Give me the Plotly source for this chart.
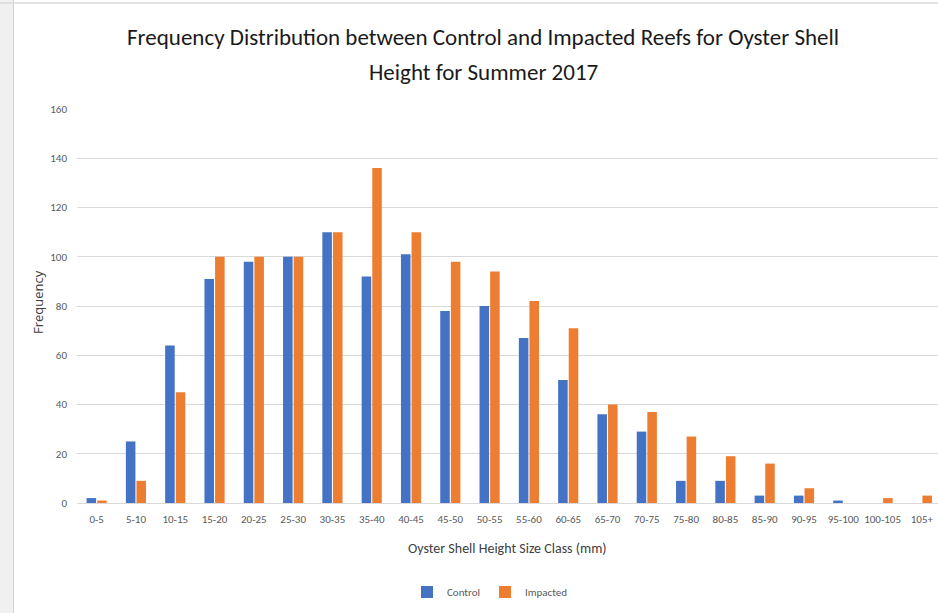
import plotly.graph_objects as go

# Oyster shell height size classes (mm)
size_classes = ["0-5", "5-10", "10-15", "15-20", "20-25", "25-30", "30-35", "35-40",
                "40-45", "45-50", "50-55", "55-60", "60-65", "65-70", "70-75", "75-80",
                "80-85", "85-90", "90-95", "95-100", "100-105", "105+"]

control = [2, 25, 64, 91, 98, 100, 110, 92, 101, 78, 80, 67, 50, 36, 29, 9, 9, 3, 3, 1, 0, 0]
impacted = [1, 9, 45, 100, 100, 100, 110, 136, 110, 98, 94, 82, 71, 40, 37, 27, 19, 16, 6, 0, 2, 3]

y_ticks = [0, 20, 40, 60, 80, 100, 120, 140, 160]

W, H = 938, 613
ML, MR, MT, MB = 77, 0, 109, 110
PW, PH = W - ML - MR, H - MT - MB

FONT = "Carlito, Calibri, Lato, sans-serif"


def px(x):
    return (x - ML) / PW


def py(y):
    return (H - MB - y) / PH


fig = go.Figure()
fig.add_trace(go.Bar(name="Control", x=size_classes, y=control,
                     marker=dict(color="#4472C4", line=dict(width=0))))
fig.add_trace(go.Bar(name="Impacted", x=size_classes, y=impacted,
                     marker=dict(color="#ED7D31", line=dict(width=0))))

fig.update_layout(
    width=W, height=H,
    margin=dict(l=ML, r=MR, t=MT, b=MB, pad=0),
    paper_bgcolor="white", plot_bgcolor="white",
    barmode="group", bargap=0.46, bargroupgap=0.1,
    font=dict(family=FONT, color="#595959"),
    showlegend=True,
    legend=dict(orientation="h", x=px(490), y=py(592), xanchor="center", yanchor="middle",
                font=dict(size=11, color="#595959", family=FONT),
                itemwidth=30, traceorder="normal", bgcolor="rgba(0,0,0,0)"),
    xaxis=dict(range=[-0.5, 21.41], showgrid=False, showline=True, linecolor="#d9d9d9",
               linewidth=1, ticks="", tickfont=dict(size=11, color="#595959", family=FONT),
               ticklabelstandoff=6, fixedrange=True),
    yaxis=dict(range=[0, 160], tickvals=y_ticks, showgrid=True, gridcolor="#d9d9d9",
               gridwidth=1, zeroline=False, showline=False, ticks="",
               tickfont=dict(size=11, color="#595959", family=FONT),
               ticklabelstandoff=9, fixedrange=True),
    shapes=[
        # slide edge on the left
        dict(type="rect", xref="paper", yref="paper", x0=px(0), x1=px(13),
             y0=py(H), y1=py(0), fillcolor="#f0f0f0", line=dict(width=0), layer="below"),
        dict(type="line", xref="paper", yref="paper", x0=px(13.5), x1=px(13.5),
             y0=py(H), y1=py(0), line=dict(color="#d0d0d0", width=1)),
        dict(type="line", xref="paper", yref="paper", x0=px(0), x1=px(W),
             y0=py(3), y1=py(3), line=dict(color="#d9d9d9", width=1.5)),
    ],
    annotations=[
        dict(text="Frequency Distribution between Control and Impacted Reefs for Oyster Shell",
             xref="paper", yref="paper", x=px(483), y=py(37), xanchor="center",
             yanchor="middle", showarrow=False,
             font=dict(size=23, color="#1a1a1a", family=FONT)),
        dict(text="Height for Summer 2017",
             xref="paper", yref="paper", x=px(483), y=py(72), xanchor="center",
             yanchor="middle", showarrow=False,
             font=dict(size=23, color="#1a1a1a", family=FONT)),
        dict(text="Oyster Shell Height Size Class (mm)",
             xref="paper", yref="paper", x=px(507), y=py(548), xanchor="center",
             yanchor="middle", showarrow=False,
             font=dict(size=14, color="#404040", family=FONT)),
        dict(text="Frequency", textangle=-90,
             xref="paper", yref="paper", x=px(38), y=py(302), xanchor="center",
             yanchor="middle", showarrow=False,
             font=dict(size=13, color="#404040", family="Open Sans, DejaVu Sans, sans-serif")),
    ],
)

fig.write_html("out.html")
